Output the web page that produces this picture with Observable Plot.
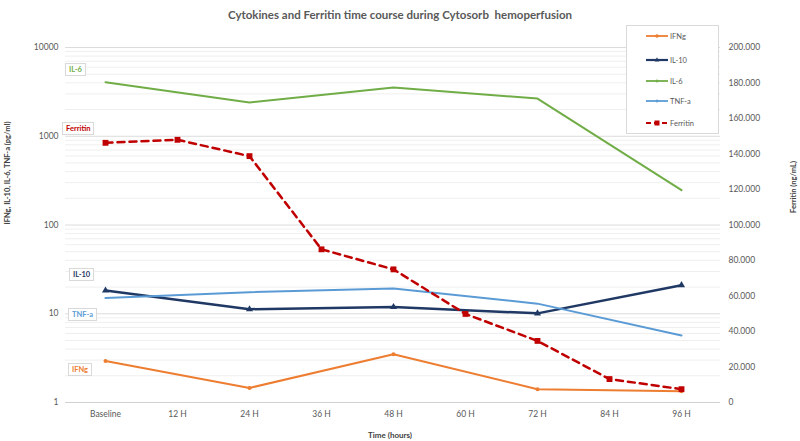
<!DOCTYPE html>
<html><head><meta charset="utf-8">
<script src="https://cdn.jsdelivr.net/npm/d3@7"></script>
<script src="https://cdn.jsdelivr.net/npm/@observablehq/plot@0.6"></script>
<style>
body{margin:0;background:#fff;font-family:Lato,"Open Sans",sans-serif;}
#wrap{position:relative;width:800px;height:441px;overflow:hidden;background:#fff}
#title{height:25px;line-height:30px;text-align:center;font-size:11.5px;font-weight:bold;color:#595959;white-space:pre}
.ann{position:absolute;border:1px solid #d9d9d9;background:#fff;font-size:7.5px;font-weight:bold;padding:1px 3px;line-height:9px}
.axt{position:absolute;font-size:7.5px;font-weight:bold;color:#404040;white-space:nowrap;transform:translate(-50%,-50%) rotate(-90deg)}
#legend{position:absolute;left:626px;top:25px;width:91px;height:107px;border:1px solid #d9d9d9;background:#fff}
#legend .it{position:absolute;left:19px;height:10px;font-size:7.5px;color:#595959;display:flex;align-items:center}
#legend svg{margin-right:1px}
#xt{position:absolute;left:390px;top:435px;transform:translate(-50%,-50%);font-size:8px;font-weight:bold;color:#404040}
</style></head>
<body><div id="wrap"><div id="title"></div></div>
<script>
const title = "Cytokines and Ferritin time course during Cytosorb  hemoperfusion";
const times = ["Baseline","12 H","24 H","36 H","48 H","60 H","72 H","84 H","96 H"];
const cytoTimes = ["Baseline","24 H","48 H","72 H","96 H"];
const ifng = [2.94,1.46,3.50,1.41,1.34];
const il10 = [18.3,11.25,11.9,10.1,21.0];
const il6 = [4060,2400,3540,2660,247];
const tnfa = [15.0,17.5,19.3,13.0,5.7];
const ferritin = [146300,148000,138800,86300,75000,49900,34700,13200,7500];
const leftTicks = [1,10,100,1000,10000];
const rightTicks = [0,20000,40000,60000,80000,100000,120000,140000,160000,180000,200000];
const seriesNames = ["IFNg","IL-10","IL-6","TNF-a","Ferritin"];
const seriesColors = ["#ED7D31","#1F3864","#70AD47","#5B9BD5","#C00000"];
const leftLabel = "IFNg, IL-10, IL-6, TNF-a (pg/ml)";
const rightLabel = "Ferritin (ng/mL)";
const xLabel = "Time (hours)";

document.getElementById("title").textContent = title;
const wrap = document.getElementById("wrap");

// map ferritin (0..200000 linear, right axis) onto left log scale (1..10000)
const ferToLog = v => Math.pow(10, v / 50000);
const col = Object.fromEntries(seriesNames.map((n,i)=>[n, seriesColors[i]]));
const rightFmt = v => v===0 ? "0" : d3.format(",")(v).replace(/,/g,".");

const cyto = [
  {name:"IFNg", vals: ifng, symbol:"circle", r:2, sw:2},
  {name:"IL-10", vals: il10, symbol:"triangle", r:2.6, sw:2.5},
  {name:"IL-6", vals: il6, symbol:"plus", r:2.6, sw:2},
  {name:"TNF-a", vals: tnfa, symbol:"plus", r:2.6, sw:2}
];
const minor = [];
for (const d of [1,10,100,1000]) for (let k=2;k<=9;k++) minor.push(d*k);

const marks = [
  Plot.ruleY(minor, {stroke:"#efefef", strokeWidth:1}),
  Plot.ruleY(leftTicks.slice(1), {stroke:"#dcdcdc", strokeWidth:1}),
  Plot.ruleY([1], {stroke:"#d0d0d0", strokeWidth:1.2}),
  Plot.axisY({ticks: leftTicks, tickFormat: d3.format("d"), tickSize:0, tickPadding:7, label:null, fill:"#595959"}),
  Plot.text(rightTicks, {y: d => ferToLog(d), text: rightFmt, frameAnchor:"right", textAnchor:"start", dx:8, fill:"#595959"}),
  Plot.axisX({tickSize:0, tickPadding:8, label:null, fill:"#595959"})
];
for (const s of cyto) {
  const data = cytoTimes.map((t,i)=>({t, v:s.vals[i]}));
  marks.push(Plot.line(data, {x:"t", y:"v", stroke:col[s.name], strokeWidth:s.sw}));
  marks.push(Plot.dot(data, {x:"t", y:"v", symbol:s.symbol, r:s.r, fill:col[s.name]}));
}
const ferData = times.map((t,i)=>({t, v:ferToLog(ferritin[i])}));
marks.push(Plot.line(ferData, {x:"t", y:"v", stroke:col["Ferritin"], strokeWidth:2.5, strokeDasharray:"7,5"}));
marks.push(Plot.dot(ferData, {x:"t", y:"v", symbol:"square", r:3.3, fill:col["Ferritin"]}));

const chart = Plot.plot({
  width:800, height:416,
  marginLeft:65, marginRight:80, marginTop:22, marginBottom:39,
  style:{fontFamily:"Lato, 'Open Sans', sans-serif", fontSize:"8.5px", background:"#fff"},
  x:{type:"point", domain:times, padding:0.5},
  y:{type:"log", domain:[1,10000]},
  marks
});
wrap.appendChild(chart);

// series annotations (text boxes)
const anns = [
  {name:"IL-6", left:65, top:63},
  {name:"Ferritin", left:62, top:122},
  {name:"IL-10", left:69, top:268},
  {name:"TNF-a", left:68, top:308},
  {name:"IFNg", left:68, top:363}
];
for (const a of anns) {
  const d = document.createElement("div");
  d.className = "ann"; d.textContent = a.name;
  d.style.left = a.left+"px"; d.style.top = a.top+"px"; d.style.color = col[a.name];
  wrap.appendChild(d);
}
// axis titles
const lt = document.createElement("div"); lt.className="axt"; lt.textContent=leftLabel;
lt.style.left="7px"; lt.style.top="173px"; wrap.appendChild(lt);
const rt = document.createElement("div"); rt.className="axt"; rt.textContent=rightLabel;
rt.style.left="793px"; rt.style.top="187px"; wrap.appendChild(rt);
const xt = document.createElement("div"); xt.id="xt"; xt.textContent=xLabel; wrap.appendChild(xt);

// legend
const leg = document.createElement("div"); leg.id="legend"; wrap.appendChild(leg);
const legSym = {"IFNg":"circle","IL-10":"triangle","IL-6":"plus","TNF-a":"plus","Ferritin":"square"};
const legY = [10, 34, 55, 75, 97];
seriesNames.forEach((n,i)=>{
  const it = document.createElement("div"); it.className="it"; it.style.top=(legY[i]-5)+"px";
  const c = col[n];
  let sym = "";
  if (legSym[n]==="circle") sym = `<circle cx="11" cy="5" r="1.8" fill="${c}"/>`;
  if (legSym[n]==="triangle") sym = `<path d="M11,2.3L13.3,6.5L8.7,6.5Z" fill="${c}"/>`;
  if (legSym[n]==="plus") sym = `<path d="M9.5,5H12.5M11,3.5V6.5" stroke="${c}" stroke-width="1.2"/>`;
  if (legSym[n]==="square") sym = `<rect x="8.5" y="2.5" width="5" height="5" fill="${c}"/>`;
  const dash = n==="Ferritin" ? ' stroke-dasharray="5,3"' : '';
  const sw = (n==="Ferritin"||n==="IL-10") ? 2.2 : 1.8;
  it.innerHTML = `<svg width="23" height="10"><line x1="0" y1="5" x2="22" y2="5" stroke="${c}" stroke-width="${sw}"${dash}/>${sym}</svg><span>${n}</span>`;
  leg.appendChild(it);
});
</script>
</body></html>
